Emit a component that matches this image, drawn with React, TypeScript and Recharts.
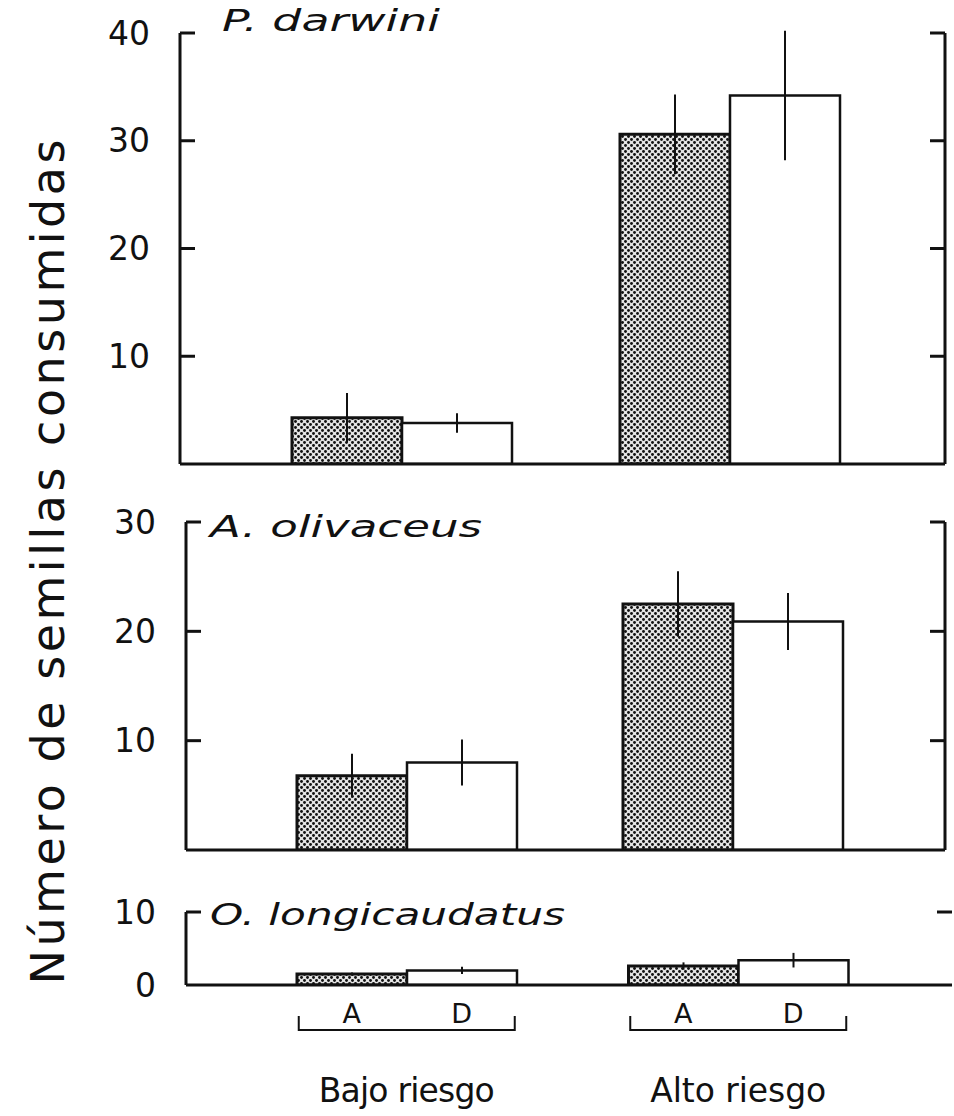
import React from 'react';
import { BarChart, Bar, XAxis, YAxis, ErrorBar } from 'recharts';

const categories = ['Bajo riesgo', 'Alto riesgo'];
const treatmentLabels = ['A', 'D'];
const speciesNames = ['P. darwini', 'A. olivaceus', 'O. longicaudatus'];
const yAxisTitle = 'Número de semillas consumidas';

const darwiniA = [4.3, 30.6];
const darwiniAErr = [2.3, 3.7];
const darwiniD = [3.8, 34.2];
const darwiniDErr = [0.9, 6.0];

const olivaceusA = [6.8, 22.5];
const olivaceusAErr = [2.0, 3.0];
const olivaceusD = [8.0, 20.9];
const olivaceusDErr = [2.1, 2.6];

const longiA = [1.5, 2.6];
const longiAErr = [0.2, 0.5];
const longiD = [2.0, 3.4];
const longiDErr = [0.5, 1.0];

const darwiniTicks = [10, 20, 30, 40];
const olivaceusTicks = [10, 20, 30];
const longiTicksLeft = [0, 10];
const longiTicksRight = [10];

const FONT = '"DejaVu Sans", "Liberation Sans", sans-serif';

function buildRows(a: number[], aErr: number[], d: number[], dErr: number[]) {
  return categories.map((c, i) => ({ cat: c, a: a[i], aErr: aErr[i], d: d[i], dErr: dErr[i] }));
}

const LEFT_GAP = 30;
const TICK_LEN = 15;

const LeftTick = (props: any) => {
  const { x, y, payload } = props;
  const ax = x + LEFT_GAP;
  return (
    <g>
      <text x={x} y={y} textAnchor="end" dominantBaseline="central" fontSize={33} fontFamily={FONT} fill="#111">
        {payload.value}
      </text>
      {payload.value !== 0 && (
        <line x1={ax} x2={ax + TICK_LEN} y1={y} y2={y} stroke="#111" strokeWidth={3} />
      )}
    </g>
  );
};

const RightTick = (props: any) => {
  const { x, y } = props;
  return <line x1={x - TICK_LEN} x2={x} y1={y} y2={y} stroke="#111" strokeWidth={3} />;
};

const GroupTick = (props: any) => {
  const { x, y, payload } = props;
  const half = 108;
  return (
    <g>
      <path
        d={`M${x - half},${y + 31} L${x - half},${y + 45} L${x + half},${y + 45} L${x + half},${y + 31}`}
        fill="none"
        stroke="#111"
        strokeWidth={2}
      />
      <text x={x - 55} y={y + 38} textAnchor="middle" fontSize={27} fontFamily={FONT} fill="#111">
        {treatmentLabels[0]}
      </text>
      <text x={x + 55} y={y + 38} textAnchor="middle" fontSize={27} fontFamily={FONT} fill="#111">
        {treatmentLabels[1]}
      </text>
      <text x={x} y={y + 117} textAnchor="middle" fontSize={33} fontFamily={FONT} fill="#111" textLength={176} lengthAdjust="spacing">
        {payload.value}
      </text>
    </g>
  );
};

type PanelProps = {
  id: string;
  rows: any[];
  top: number;
  height: number;
  plotTop: number;
  plotBottom: number;
  axisLeft: number;
  axisRight: number;
  padLeft: number;
  padRight: number;
  domainMax: number;
  leftTicks: number[];
  rightTicks: number[];
  rightAxisLine: boolean;
  bottom: boolean;
};

function Panel(p: PanelProps) {
  const yAxisWidth = 90;
  const rightWidth = 2;
  const xAxisHeight = p.bottom ? p.height - p.plotBottom : 2;
  const margin = {
    top: p.plotTop,
    right: 954 - p.axisRight - rightWidth,
    bottom: p.bottom ? 0 : p.height - p.plotBottom - xAxisHeight,
    left: p.axisLeft - yAxisWidth,
  };
  return (
    <div style={{ position: 'absolute', left: 0, top: p.top, width: 954, height: p.height }}>
      <BarChart width={954} height={p.height} data={p.rows} margin={margin} barGap={0} barSize={110}>
        <defs>
          <pattern id={`dots-${p.id}`} width={6} height={6} patternUnits="userSpaceOnUse">
            <rect x={0} y={0} width={6} height={6} fill="#e4e4e4" />
            <circle cx={1.5} cy={1.5} r={1.45} fill="#111" />
            <circle cx={4.5} cy={4.5} r={1.45} fill="#111" />
          </pattern>
        </defs>
        <XAxis
          dataKey="cat"
          type="category"
          padding={{ left: p.padLeft, right: p.padRight }}
          axisLine={{ stroke: '#111', strokeWidth: 3 }}
          tickLine={false}
          tickSize={0}
          tickMargin={0}
          interval={0}
          height={xAxisHeight}
          tick={p.bottom ? <GroupTick /> : false}
        />
        <YAxis
          yAxisId="left"
          orientation="left"
          width={yAxisWidth}
          domain={[0, p.domainMax]}
          allowDataOverflow
          ticks={p.leftTicks}
          interval={0}
          tickSize={0}
          tickMargin={LEFT_GAP}
          tickLine={false}
          axisLine={{ stroke: '#111', strokeWidth: 3 }}
          tick={<LeftTick />}
        />
        <YAxis
          yAxisId="right"
          orientation="right"
          width={rightWidth}
          domain={[0, p.domainMax]}
          allowDataOverflow
          ticks={p.rightTicks}
          interval={0}
          tickSize={0}
          tickMargin={0}
          tickLine={false}
          axisLine={p.rightAxisLine ? { stroke: '#111', strokeWidth: 3 } : false}
          tick={<RightTick />}
        />
        <Bar yAxisId="left" dataKey="a" fill={`url(#dots-${p.id})`} stroke="#111" strokeWidth={3} isAnimationActive={false}>
          <ErrorBar dataKey="aErr" width={0} stroke="#111" strokeWidth={2} direction="y" />
        </Bar>
        <Bar yAxisId="left" dataKey="d" fill="#ffffff" stroke="#111" strokeWidth={2.5} isAnimationActive={false}>
          <ErrorBar dataKey="dErr" width={0} stroke="#111" strokeWidth={2} direction="y" />
        </Bar>
      </BarChart>
    </div>
  );
}

export default function App() {
  return (
    <div style={{ position: 'absolute', left: 0, top: 0, width: 954, height: 1116, background: '#fff', overflow: 'hidden' }}>
      <Panel
        id="p1"
        rows={buildRows(darwiniA, darwiniAErr, darwiniD, darwiniDErr)}
        top={0}
        height={480}
        plotTop={33}
        plotBottom={464}
        axisLeft={180}
        axisRight={945}
        padLeft={58}
        padRight={51}
        domainMax={40}
        leftTicks={darwiniTicks}
        rightTicks={darwiniTicks}
        rightAxisLine
        bottom={false}
      />
      <Panel
        id="p2"
        rows={buildRows(olivaceusA, olivaceusAErr, olivaceusD, olivaceusDErr)}
        top={480}
        height={400}
        plotTop={42}
        plotBottom={370}
        axisLeft={186}
        axisRight={945}
        padLeft={58}
        padRight={49}
        domainMax={30}
        leftTicks={olivaceusTicks}
        rightTicks={olivaceusTicks}
        rightAxisLine
        bottom={false}
      />
      <Panel
        id="p3"
        rows={buildRows(longiA, longiAErr, longiD, longiDErr)}
        top={880}
        height={236}
        plotTop={32}
        plotBottom={105}
        axisLeft={186}
        axisRight={952}
        padLeft={55}
        padRight={48}
        domainMax={10}
        leftTicks={longiTicksLeft}
        rightTicks={longiTicksRight}
        rightAxisLine={false}
        bottom
      />
      <svg width={954} height={1116} style={{ position: 'absolute', left: 0, top: 0, pointerEvents: 'none' }}>
        <text x={222} y={31} fontSize={30} fontStyle="italic" fontFamily={FONT} fill="#111" textLength={218} lengthAdjust="spacingAndGlyphs">{speciesNames[0]}</text>
        <text x={210} y={537} fontSize={30} fontStyle="italic" fontFamily={FONT} fill="#111" textLength={272} lengthAdjust="spacingAndGlyphs">{speciesNames[1]}</text>
        <text x={210} y={925} fontSize={30} fontStyle="italic" fontFamily={FONT} fill="#111" textLength={355} lengthAdjust="spacingAndGlyphs">{speciesNames[2]}</text>
        <text
          transform="translate(64,562) rotate(-90)"
          x={0}
          y={0}
          textAnchor="middle"
          fontSize={46}
          fontFamily={FONT}
          fill="#111"
          textLength={845}
          lengthAdjust="spacing"
        >
          {yAxisTitle}
        </text>
      </svg>
    </div>
  );
}
